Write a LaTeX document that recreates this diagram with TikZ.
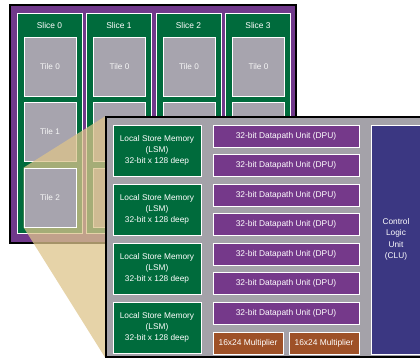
\documentclass[tikz,border=0pt]{standalone}
\usepackage{fontspec}
\setmainfont{Liberation Sans}

\definecolor{chippurple}{HTML}{70398B}
\definecolor{slicegreen}{HTML}{006B3C}
\definecolor{tilegray}{HTML}{A7A4AE}
\definecolor{boxgray}{HTML}{A4A2A9}
\definecolor{dpupurple}{HTML}{75398A}
\definecolor{clublue}{HTML}{3B3782}
\definecolor{multbrown}{HTML}{9E5128}
\definecolor{conetan}{HTML}{DDC48B}

\pgfdeclarelayer{cone}
\pgfdeclarelayer{front}
\pgfsetlayers{main,cone,front}

\tikzset{
    chipbox/.style={draw=black, line width=1.5pt, fill=chippurple, minimum width=286pt, minimum height=238pt, inner sep=0pt},
    slicebox/.style={draw=white, line width=0.8pt, fill=slicegreen, minimum width=65pt, minimum height=220pt, inner sep=0pt},
    slicetext/.style={text=white, font=\fontsize{8.4}{10}\selectfont, anchor=north, yshift=-6pt},
    tilebox/.style={draw=white, line width=0.8pt, fill=tilegray, minimum width=52pt, minimum height=59pt, inner sep=0pt, text=white!92!gray, font=\fontsize{8.2}{10}\selectfont},
    detailbox/.style={draw=black, line width=1.5pt, fill=boxgray, minimum width=318pt, minimum height=240pt, inner sep=0pt},
    lsmbox/.style={draw=white, line width=0.8pt, fill=slicegreen, minimum width=88pt, minimum height=51pt, inner sep=0pt, align=center, text=white, font=\fontsize{8.3}{11.2}\selectfont},
    dpubox/.style={draw=white, line width=0.8pt, fill=dpupurple, minimum width=146pt, minimum height=22pt, inner sep=0pt, text=white, font=\fontsize{8.4}{10}\selectfont},
    multbox/.style={draw=white, line width=0.8pt, fill=multbrown, minimum width=70pt, minimum height=22pt, inner sep=0pt, text=white, font=\fontsize{8.4}{10}\selectfont},
    clubox/.style={draw=white, line width=0.8pt, fill=clublue, minimum width=50pt, minimum height=229pt, inner sep=0pt, align=center, text=white, font=\fontsize{8.3}{11.5}\selectfont},
}

\begin{document}
\begin{tikzpicture}[x=1pt, y=-1pt]
    \useasboundingbox (0,0) rectangle (420,360);

    % chip with four slices
    \node[chipbox] (chip) at (153,124) {};
    \node[slicebox, label={[slicetext]north:Slice 0}] (s0) at (49.5,123) {};
    \node[slicebox, label={[slicetext]north:Slice 1}] (s1) at (119,123) {};
    \node[slicebox, label={[slicetext]north:Slice 2}] (s2) at (188.5,123) {};
    \node[slicebox, label={[slicetext]north:Slice 3}] (s3) at (258,123) {};

    % tiles
    \node[tilebox] (s0t0) at (50,66.5) {Tile 0};
    \node[tilebox] (s0t1) at (50,132) {Tile 1};
    \node[tilebox] (s1t0) at (119.5,66.5) {Tile 0};
    \node[tilebox] (s1t1) at (119.5,132) {};
    \node[tilebox] (s1t2) at (119.5,197.5) {};
    \node[tilebox] (s2t0) at (189,66.5) {Tile 0};
    \node[tilebox] (s2t1) at (189,132) {};
    \node[tilebox] (s2t2) at (189,197.5) {};
    \node[tilebox] (s3t0) at (258.5,66.5) {Tile 0};
    \node[tilebox] (s3t1) at (258.5,132) {};
    \node[tilebox] (s3t2) at (258.5,197.5) {};

    \begin{pgfonlayer}{front}
        % the zoomed tile
        \node[tilebox] (s0t2) at (50,197.5) {Tile 2};

        % one tile in detail
        \node[detailbox] (detail) at (265,237) {};
        \node[lsmbox] (lsm0) at (157,150.5) {Local Store Memory\\(LSM)\\32-bit x 128 deep};
        \node[lsmbox] (lsm1) at (157,209.5) {Local Store Memory\\(LSM)\\32-bit x 128 deep};
        \node[lsmbox] (lsm2) at (157,268.5) {Local Store Memory\\(LSM)\\32-bit x 128 deep};
        \node[lsmbox] (lsm3) at (157,327.5) {Local Store Memory\\(LSM)\\32-bit x 128 deep};
        \node[dpubox] (dpu0) at (286,136) {32-bit Datapath Unit (DPU)};
        \node[dpubox] (dpu1) at (286,165.5) {32-bit Datapath Unit (DPU)};
        \node[dpubox] (dpu2) at (286,195) {32-bit Datapath Unit (DPU)};
        \node[dpubox] (dpu3) at (286,224.5) {32-bit Datapath Unit (DPU)};
        \node[dpubox] (dpu4) at (286,254) {32-bit Datapath Unit (DPU)};
        \node[dpubox] (dpu5) at (286,283.5) {32-bit Datapath Unit (DPU)};
        \node[dpubox] (dpu6) at (286,313) {32-bit Datapath Unit (DPU)};
        \node[multbox] (mult0) at (248,343) {16x24 Multiplier};
        \node[multbox] (mult1) at (324,343) {16x24 Multiplier};
        \node[clubox] (clu) at (396,239.5) {Control\\Logic\\Unit\\(CLU)};
    \end{pgfonlayer}

    % zoom cone from the tile to the detail box
    \begin{pgfonlayer}{cone}
        \fill[conetan, fill opacity=0.75] (s0t2.north west) -- (detail.north west)
            -- (detail.south west) -- (s0t2.south west) -- cycle;
    \end{pgfonlayer}
\end{tikzpicture}
\end{document}
